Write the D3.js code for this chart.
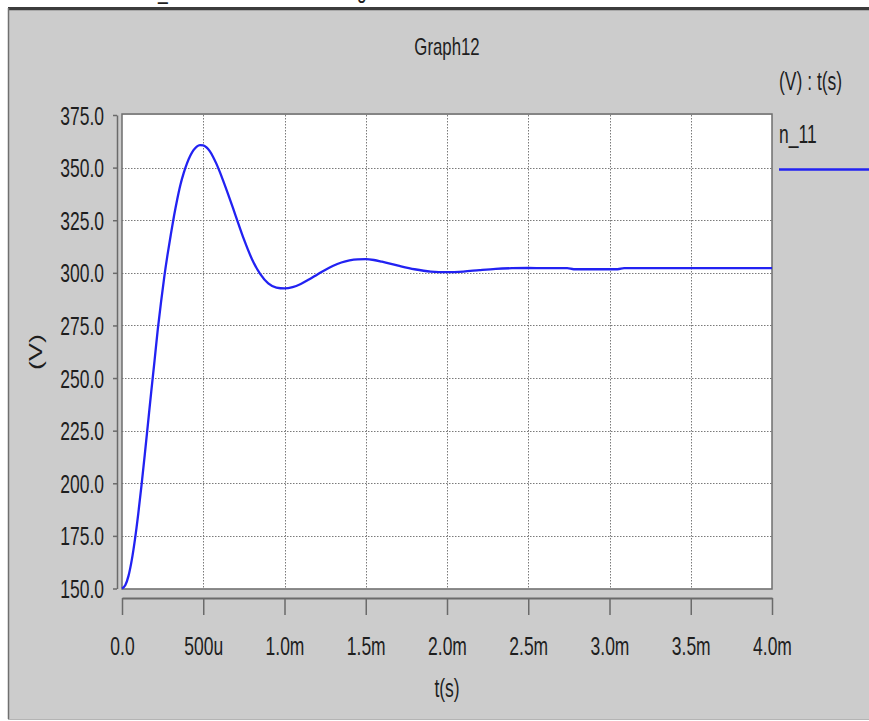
<!DOCTYPE html>
<html>
<head>
<meta charset="utf-8">
<script src="https://cdn.jsdelivr.net/npm/d3@7"></script>
<style>
  body { margin: 0; background: #fff; }
  text { font-family: "Liberation Sans", Arial, sans-serif; fill: #1e1e1e; }
</style>
</head>
<body>
<svg width="869" height="721"></svg>
<script>
// values (time in ms, voltage in V)
var timeMs = [0, 0.02, 0.04, 0.06, 0.08, 0.10, 0.12, 0.14, 0.16, 0.18, 0.20, 0.22, 0.24, 0.26, 0.28, 0.30,
  0.32, 0.34, 0.36, 0.38, 0.40, 0.42, 0.44, 0.46, 0.48, 0.50, 0.52, 0.54, 0.56, 0.58, 0.60, 0.62, 0.65,
  0.70, 0.75, 0.80, 0.85, 0.90, 0.95, 1.00, 1.05, 1.10, 1.15, 1.20, 1.25, 1.30, 1.35, 1.40, 1.45, 1.50,
  1.55, 1.60, 1.70, 1.80, 1.90, 2.00, 2.10, 2.20, 2.30, 2.40, 2.50, 2.60, 2.74, 2.78, 3.05, 3.09, 3.50, 4.00];
var volts = [150, 151.5, 156, 163.5, 173.5, 185.5, 199, 213.5, 228.5, 243.5, 258, 273, 286, 298, 308.5, 318,
  327, 335, 342, 347.5, 352, 355.6, 358.3, 360, 360.7, 360.6, 359.6, 357.8, 355.2, 352, 348.3, 344.3, 338,
  327, 316, 306.5, 299.5, 295, 293, 292.6, 293.2, 294.7, 296.8, 299.1, 301.4, 303.4, 304.9, 305.9, 306.4, 306.5,
  306.1, 305.3, 303.4, 301.7, 300.6, 300.3, 300.6, 301.3, 301.9, 302.2, 302.3, 302.2, 302.2, 301.7, 301.7, 302.2, 302.2, 302.2];

var xTickValues = [0, 0.5, 1, 1.5, 2, 2.5, 3, 3.5, 4];
var xTickLabels = ["0.0", "500u", "1.0m", "1.5m", "2.0m", "2.5m", "3.0m", "3.5m", "4.0m"];
var yTickValues = [150, 175, 200, 225, 250, 275, 300, 325, 350, 375];
var yTickLabels = ["150.0", "175.0", "200.0", "225.0", "250.0", "275.0", "300.0", "325.0", "350.0", "375.0"];

var svg = d3.select("svg");
var sx = 0.7; // the screenshot's text is squeezed sideways

var plot = {left: 122, right: 772, top: 115, bottom: 588.5};

var x = d3.scaleLinear().domain([0, 4]).range([plot.left, plot.right]);
var y = d3.scaleLinear().domain([150, 375]).range([plot.bottom, plot.top]);

// grey window panel
svg.append("rect")
  .attr("x", 8).attr("y", 8).attr("width", 861).attr("height", 711)
  .attr("fill", "#cccccc");
svg.append("line").attr("x1", 8).attr("x2", 869).attr("y1", 8.5).attr("y2", 8.5)
  .attr("stroke", "#3c3c3c").attr("stroke-width", 3);
svg.append("line").attr("x1", 8).attr("x2", 869).attr("y1", 10.5).attr("y2", 10.5)
  .attr("stroke", "#a8a8a8").attr("stroke-width", 1);
svg.append("line").attr("x1", 8.5).attr("x2", 8.5).attr("y1", 8).attr("y2", 719)
  .attr("stroke", "#707070").attr("stroke-width", 1.5);
svg.append("line").attr("x1", 8).attr("x2", 869).attr("y1", 719.5).attr("y2", 719.5)
  .attr("stroke", "#b4b4b4").attr("stroke-width", 1);

// cut-off text bits at the very top
svg.append("text").attr("transform", "translate(158,-1.5) scale(" + sx + ",1)")
  .attr("font-size", 25).text("_");
svg.append("text").attr("transform", "translate(357,-2) scale(" + sx + ",1)")
  .attr("font-size", 25).text("g");

// plot area
svg.append("rect")
  .attr("x", plot.left).attr("y", plot.top)
  .attr("width", plot.right - plot.left).attr("height", plot.bottom - plot.top)
  .attr("fill", "#fff");

// grid
var grid = svg.append("g").attr("stroke", "#7a7a7a").attr("stroke-dasharray", "1.5,1.5").attr("stroke-width", 1);
grid.selectAll(".gx").data(xTickValues.slice(1, -1)).enter().append("line")
  .attr("x1", function(d) { return Math.round(x(d)) + 0.5; })
  .attr("x2", function(d) { return Math.round(x(d)) + 0.5; })
  .attr("y1", plot.top).attr("y2", plot.bottom);
grid.selectAll(".gy").data(yTickValues.slice(1, -1)).enter().append("line")
  .attr("y1", function(d) { return Math.round(y(d)) + 0.5; })
  .attr("y2", function(d) { return Math.round(y(d)) + 0.5; })
  .attr("x1", plot.left).attr("x2", plot.right);

// plot border
svg.append("rect")
  .attr("x", plot.left).attr("y", plot.top - 1)
  .attr("width", plot.right - plot.left).attr("height", plot.bottom - plot.top + 1.5)
  .attr("fill", "none").attr("stroke", "#6e6e6e").attr("stroke-width", 1.5);

// curve
var line = d3.line()
  .x(function(d, i) { return x(timeMs[i]); })
  .y(function(d) { return y(d); })
  .curve(d3.curveMonotoneX);

svg.append("path")
  .datum(volts)
  .attr("fill", "none")
  .attr("stroke", "#2222f2")
  .attr("stroke-width", 2.3)
  .attr("stroke-linejoin", "round")
  .attr("d", line);

// y axis
var yAxis = svg.append("g")
  .attr("transform", "translate(117,0)")
  .call(d3.axisLeft(y).tickValues(yTickValues).tickSize(4).tickSizeOuter(0).tickFormat(function(d, i) { return yTickLabels[i]; }));
yAxis.select(".domain").attr("stroke", "#6a6a6a").attr("stroke-width", 1.5);
yAxis.selectAll(".tick line").attr("stroke", "#6a6a6a").attr("stroke-width", 1.5);
yAxis.selectAll(".tick text")
  .attr("x", null).attr("dy", "0.36em")
  .attr("transform", "translate(-13,0) scale(" + sx + ",1)")
  .attr("font-size", 25).attr("font-family", null).attr("fill", "#1e1e1e");

// x axis
var xAxis = svg.append("g")
  .attr("transform", "translate(0,598)")
  .call(d3.axisBottom(x).tickValues(xTickValues).tickSize(17).tickSizeOuter(0).tickFormat(function(d, i) { return xTickLabels[i]; }));
xAxis.select(".domain").attr("stroke", "#6a6a6a").attr("stroke-width", 2);
xAxis.selectAll(".tick line").attr("stroke", "#6a6a6a").attr("stroke-width", 1.5);
xAxis.selectAll(".tick text")
  .attr("y", null).attr("dy", null)
  .attr("transform", "translate(0,57) scale(" + sx + ",1)")
  .attr("font-size", 25).attr("font-family", null).attr("fill", "#1e1e1e");

// titles and labels
svg.append("text").attr("transform", "translate(447,55) scale(" + sx + ",1)")
  .attr("text-anchor", "middle").attr("font-size", 24).text("Graph12");
svg.append("text").attr("transform", "translate(447,697) scale(" + sx + ",1)")
  .attr("text-anchor", "middle").attr("font-size", 25).text("t(s)");
svg.append("text").attr("transform", "translate(42,352) scale(" + sx + ",1) rotate(-90)")
  .attr("text-anchor", "middle").attr("font-size", 27).text("(V)");

// legend
svg.append("text").attr("transform", "translate(779,90) scale(" + sx + ",1)")
  .attr("font-size", 25).text("(V) : t(s)");
svg.append("text").attr("transform", "translate(779,143) scale(" + sx + ",1)")
  .attr("font-size", 25).text("n_11");
svg.append("line").attr("x1", 779).attr("x2", 869).attr("y1", 169.5).attr("y2", 169.5)
  .attr("stroke", "#2222f2").attr("stroke-width", 2.5);
</script>
</body>
</html>
